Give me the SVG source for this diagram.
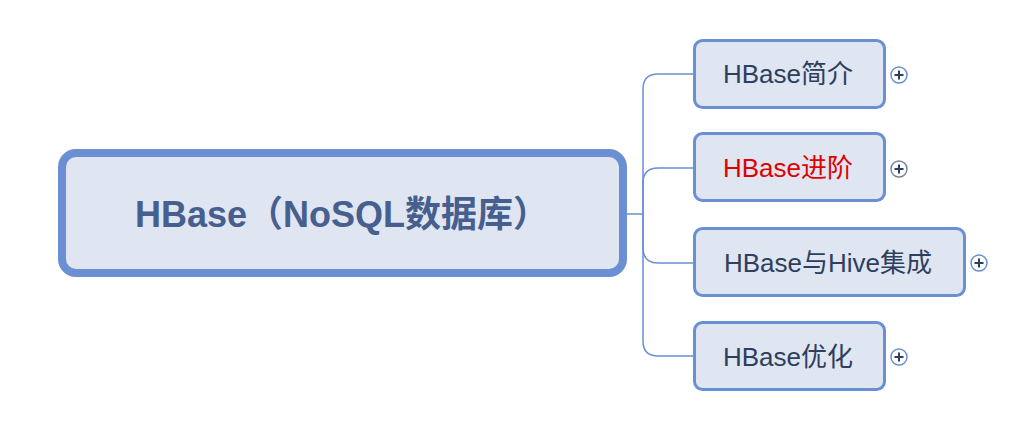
<svg xmlns="http://www.w3.org/2000/svg" width="1020" height="442" viewBox="0 0 1020 442">
<style>
.box{fill:#dfe5f1;stroke:#6a8fd3}
.child{stroke-width:3}
.t{font-family:"Liberation Sans","Noto Sans CJK SC",sans-serif;text-anchor:middle}
.ct{font-size:26px;fill:#2d3e5e}
.mt{font-size:36px;font-weight:bold;fill:#465f8f}
.conn{fill:none;stroke:#6a8fd3;stroke-width:1.5}
.pc{fill:#fff;stroke:#6a8fd3;stroke-width:1.5}
.pl{stroke:#2d3e5e;stroke-width:2}
</style>
<rect width="1020" height="442" fill="#fff"/>
<g id="connectors">
<path class="conn" d="M627,214 H643"/>
<path class="conn" d="M643,214 V89 Q643,74 658,74 H694"/>
<path class="conn" d="M643,214 V183 Q643,168 658,168 H694"/>
<path class="conn" d="M643,214 V248 Q643,263 658,263 H694"/>
<path class="conn" d="M643,214 V341 Q643,356 658,356 H694"/>
</g>
<g id="root">
<rect class="box" x="62" y="153" width="561" height="120" rx="14" stroke-width="8"/>
<text class="t mt" x="342" y="227">HBase（NoSQL数据库）</text>
</g>
<g id="n1">
<rect class="box child" x="694.5" y="40.5" width="190" height="67" rx="8"/>
<text class="t ct" x="788" y="83">HBase简介</text>
<circle class="pc" cx="899" cy="75" r="8"/>
<path class="pl" d="M894.5,75 H903.5 M899,70.5 V79.5"/>
</g>
<g id="n2">
<rect class="box child" x="694.5" y="133.5" width="190" height="67" rx="8"/>
<text class="t ct" x="788" y="177" fill="#e00000" style="fill:#e00000">HBase进阶</text>
<circle class="pc" cx="899" cy="169" r="8" style="stroke:#7a8499"/>
<path class="pl" d="M894.5,169 H903.5 M899,164.5 V173.5"/>
</g>
<g id="n3">
<rect class="box child" x="694.5" y="228.5" width="270" height="67" rx="8"/>
<text class="t ct" x="828" y="272">HBase与Hive集成</text>
<circle class="pc" cx="979" cy="263" r="8"/>
<path class="pl" d="M974.5,263 H983.5 M979,258.5 V267.5"/>
</g>
<g id="n4">
<rect class="box child" x="694.5" y="322.5" width="190" height="67" rx="8"/>
<text class="t ct" x="788" y="366">HBase优化</text>
<circle class="pc" cx="899" cy="357" r="8"/>
<path class="pl" d="M894.5,357 H903.5 M899,352.5 V361.5"/>
</g>
</svg>
